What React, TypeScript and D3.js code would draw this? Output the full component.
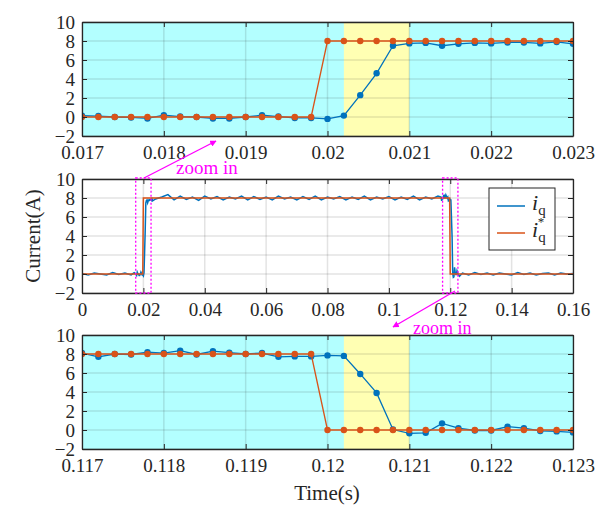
import React, { useEffect, useRef } from 'react'
import * as d3 from 'd3'

// sample grid of the zoomed panels (0.2 us steps)
const topTime = d3.range(31).map((i) => 0.017 + i * 0.0002)
const botTime = d3.range(31).map((i) => 0.117 + i * 0.0002)

// zoomed panel, start of the step
const topIq = [
  0.15, 0.1, 0, -0.05, -0.15, 0.2, 0.05, 0, -0.15, -0.15, 0, 0.2, 0.05, -0.1, -0.1, -0.2, 0.15, 2.3, 4.6, 7.5,
  7.75, 7.8, 7.5, 7.7, 7.8, 7.75, 7.85, 7.85, 7.75, 7.9, 7.7,
]
const topRef = [0, 0, 0, 0, 0, 0, 0, 0, 0, 0, 0, 0, 0, 0, 0, 8, 8, 8, 8, 8, 8, 8, 8, 8, 8, 8, 8, 8, 8, 8, 8]

// zoomed panel, end of the step
const botIq = [
  8.1, 7.7, 8.0, 7.95, 8.2, 8.1, 8.35, 7.95, 8.3, 8.15, 8.0, 8.1, 7.7, 7.75, 7.75, 7.85, 7.8, 5.9, 3.9, 0.05,
  -0.35, -0.3, 0.7, 0.2, -0.05, -0.05, 0.35, 0.2, -0.1, -0.15, -0.25,
]
const botRef = [8, 8, 8, 8, 8, 8, 8, 8, 8, 8, 8, 8, 8, 8, 8, 0, 0, 0, 0, 0, 0, 0, 0, 0, 0, 0, 0, 0, 0, 0, 0]

// full run, sampled every 2 us outside the zoomed windows
const preTime = d3.range(9).map((i) => i * 0.002)
const preIq = [0.05, -0.1, 0.1, 0, -0.1, 0.15, -0.05, 0.1, -0.1]
const midTime = d3.range(47).map((i) => 0.024 + i * 0.002)
const midIq = [
  7.9, 8.1, 8.35, 7.8, 8.2, 7.85, 8.1, 7.75, 8.2, 7.9, 8.15, 7.8, 8.1, 7.9, 8.2, 7.8, 8.15, 7.85, 8.1, 7.8, 8.2,
  7.9, 8.1, 7.8, 8.15, 7.85, 8.2, 7.8, 8.1, 7.9, 8.15, 7.8, 8.1, 7.85, 8.2, 7.8, 8.1, 7.9, 8.15, 7.8, 8.1, 7.85,
  8.2, 7.8, 8.1, 7.9, 8.2,
]
const postTime = d3.range(19).map((i) => 0.124 + i * 0.002)
const postIq = [0.1, -0.1, 0.15, -0.05, 0.1, -0.1, 0.1, 0, -0.1, 0.15, -0.05, 0.1, -0.1, 0.05, 0.1, -0.1, 0.1, 0, 0.05]

const yTicks = [-2, 0, 2, 4, 6, 8, 10]
const topTicks = [0.017, 0.018, 0.019, 0.02, 0.021, 0.022, 0.023]
const topTickLabels = ['0.017', '0.018', '0.019', '0.02', '0.021', '0.022', '0.023']
const midTicks = [0, 0.02, 0.04, 0.06, 0.08, 0.1, 0.12, 0.14, 0.16]
const midTickLabels = ['0', '0.02', '0.04', '0.06', '0.08', '0.1', '0.12', '0.14', '0.16']
const botTicks = [0.117, 0.118, 0.119, 0.12, 0.121, 0.122, 0.123]
const botTickLabels = ['0.117', '0.118', '0.119', '0.12', '0.121', '0.122', '0.123']

// highlighted intervals
const topSpan = [0.0202, 0.021]
const botSpan = [0.1202, 0.121]
const zoomBoxes = [
  [0.0175, 0.0225],
  [0.1175, 0.1225],
]

const BLUE = '#0072BD'
const ORANGE = '#D95319'
const AX = '#262626'
const FONT = 'Liberation Serif, DejaVu Serif, Noto Serif, Times New Roman, Times, serif'

const App = () => {
  const svgRef = useRef(null)

  useEffect(() => {
    const svg = d3.select(svgRef.current)
    svg.selectAll('*').remove()
    svg.attr('font-family', FONT)

    const left = 82
    const right = 573

    const drawPanel = (top, bottom, domain, ticks, labels, series, opts) => {
      const x = d3.scaleLinear().domain(domain).range([left, right])
      const y = d3.scaleLinear().domain([-2, 10]).range([bottom, top])
      const g = svg.append('g')

      if (opts.shaded) {
        g.append('rect')
          .attr('x', left)
          .attr('y', top)
          .attr('width', right - left)
          .attr('height', bottom - top)
          .attr('fill', '#b3ffff')
        g.append('rect')
          .attr('x', x(opts.span[0]))
          .attr('y', top)
          .attr('width', x(opts.span[1]) - x(opts.span[0]))
          .attr('height', bottom - top)
          .attr('fill', '#ffffb3')
      }

      // grid
      g.selectAll('.gx')
        .data(ticks)
        .enter()
        .append('line')
        .attr('x1', (d) => x(d))
        .attr('x2', (d) => x(d))
        .attr('y1', top)
        .attr('y2', bottom)
        .attr('stroke', AX)
        .attr('stroke-opacity', 0.13)
        .attr('stroke-width', 1.5)
      g.selectAll('.gy')
        .data(yTicks)
        .enter()
        .append('line')
        .attr('x1', left)
        .attr('x2', right)
        .attr('y1', (d) => y(d))
        .attr('y2', (d) => y(d))
        .attr('stroke', AX)
        .attr('stroke-opacity', 0.13)
        .attr('stroke-width', 1.5)

      // lines
      const line = d3
        .line()
        .x((d) => x(d[0]))
        .y((d) => y(d[1]))
      const clipId = 'clip' + top
      svg
        .append('clipPath')
        .attr('id', clipId)
        .append('rect')
        .attr('x', left)
        .attr('y', top)
        .attr('width', right - left)
        .attr('height', bottom - top)
      series.forEach((s) => {
        const sg = g.append('g').attr('clip-path', `url(#${clipId})`)
        sg.append('path')
          .datum(s.pts)
          .attr('d', line)
          .attr('fill', 'none')
          .attr('stroke', s.color)
          .attr('stroke-width', opts.markers ? 1.3 : 1.5)
        if (opts.markers) {
          sg.selectAll('circle')
            .data(s.pts)
            .enter()
            .append('circle')
            .attr('cx', (d) => x(d[0]))
            .attr('cy', (d) => y(d[1]))
            .attr('r', 3.2)
            .attr('fill', s.color)
        }
      })

      // axes with inward ticks on all sides
      const fmt = (d) => labels[ticks.indexOf(d)]
      const styleAxis = (a) => {
        a.attr('font-family', FONT).attr('font-size', 19)
        a.selectAll('path').attr('stroke', AX).attr('stroke-width', 1.3)
        a.selectAll('line').attr('stroke', AX).attr('stroke-width', 1)
        a.selectAll('text').attr('fill', AX)
      }
      g.append('g')
        .attr('transform', `translate(0,${bottom})`)
        .call(d3.axisBottom(x).tickValues(ticks).tickFormat(fmt).tickSize(-5).tickPadding(10).tickSizeOuter(0))
        .call(styleAxis)
      g.append('g')
        .attr('transform', `translate(0,${top})`)
        .call(d3.axisTop(x).tickValues(ticks).tickFormat(() => '').tickSize(-5).tickSizeOuter(0))
        .call(styleAxis)
      g.append('g')
        .attr('transform', `translate(${left},0)`)
        .call(d3.axisLeft(y).tickValues(yTicks).tickSize(-5).tickPadding(7).tickSizeOuter(0))
        .call(styleAxis)
      g.append('g')
        .attr('transform', `translate(${right},0)`)
        .call(d3.axisRight(y).tickValues(yTicks).tickFormat(() => '').tickSize(-5).tickSizeOuter(0))
        .call(styleAxis)
      g.selectAll('.domain').attr('fill', 'none')
      return { x, y, g }
    }

    const zip = (t, v) => t.map((d, i) => [d, v[i]])

    drawPanel(22, 136, [0.017, 0.023], topTicks, topTickLabels, [
      { pts: zip(topTime, topIq), color: BLUE },
      { pts: zip(topTime, topRef), color: ORANGE },
    ], { shaded: true, span: topSpan, markers: true })

    const fullIq = [
      ...zip(preTime, preIq),
      ...zip(topTime, topIq),
      ...zip(midTime, midIq),
      ...zip(botTime, botIq),
      ...zip(postTime, postIq),
    ]
    const fullRef = [[0, 0], ...zip(topTime, topRef), ...zip(botTime, botRef), [0.16, 0]]

    const mid = drawPanel(179, 293, [0, 0.16], midTicks, midTickLabels, [
      { pts: fullIq, color: BLUE },
      { pts: fullRef, color: ORANGE },
    ], { shaded: false, markers: false })

    // dotted zoom boxes
    mid.g
      .selectAll('.zb')
      .data(zoomBoxes)
      .enter()
      .append('rect')
      .attr('x', (d) => mid.x(d[0]))
      .attr('y', 178)
      .attr('width', (d) => mid.x(d[1]) - mid.x(d[0]))
      .attr('height', 115)
      .attr('fill', 'none')
      .attr('stroke', '#ff00ff')
      .attr('stroke-width', 1.3)
      .attr('stroke-dasharray', '2,2')

    drawPanel(335, 449, [0.117, 0.123], botTicks, botTickLabels, [
      { pts: zip(botTime, botIq), color: BLUE },
      { pts: zip(botTime, botRef), color: ORANGE },
    ], { shaded: true, span: botSpan, markers: true })

    // legend
    const lg = svg.append('g')
    lg.append('rect')
      .attr('x', 489)
      .attr('y', 188)
      .attr('width', 66)
      .attr('height', 62)
      .attr('fill', '#fff')
      .attr('stroke', AX)
      .attr('stroke-width', 1)
    ;[
      { c: BLUE, y: 206, star: false },
      { c: ORANGE, y: 233, star: true },
    ].forEach((e) => {
      lg.append('line').attr('x1', 497).attr('x2', 525).attr('y1', e.y).attr('y2', e.y).attr('stroke', e.c).attr('stroke-width', 1.5)
      const t = lg.append('text').attr('x', 532).attr('y', e.y + 4).attr('fill', AX)
      t.append('tspan').attr('font-size', 22).attr('font-style', 'italic').text('i')
      t.append('tspan').attr('font-size', 15).attr('dy', 5).text('q')
      if (e.star) {
        t.append('tspan').attr('font-size', 13).attr('dx', -8).attr('dy', -16).text('*')
      }
    })

    // zoom annotations
    const defs = svg.append('defs')
    defs.append('marker')
      .attr('id', 'arr')
      .attr('viewBox', '0 0 10 10')
      .attr('refX', 9)
      .attr('refY', 5)
      .attr('markerWidth', 5)
      .attr('markerHeight', 5)
      .attr('orient', 'auto')
      .append('path')
      .attr('d', 'M0,0L10,5L0,10z')
      .attr('fill', '#ff00ff')
    svg.append('line').attr('x1', 144).attr('y1', 178).attr('x2', 216).attr('y2', 141).attr('stroke', '#ff00ff').attr('stroke-width', 1.3).attr('marker-end', 'url(#arr)')
    svg.append('line').attr('x1', 455).attr('y1', 291).attr('x2', 393).attr('y2', 327).attr('stroke', '#ff00ff').attr('stroke-width', 1.3).attr('marker-end', 'url(#arr)')
    svg.append('text').attr('x', 176).attr('y', 174).text('zoom in').attr('fill', '#ff00ff').attr('font-size', 19)
    svg.append('text').attr('x', 413).attr('y', 334).text('zoom in').attr('fill', '#ff00ff').attr('font-size', 18)

    // axis titles
    svg.append('text')
      .text('Current(A)')
      .attr('transform', 'translate(40,236) rotate(-90)')
      .attr('text-anchor', 'middle')
      .attr('fill', AX)
      .attr('font-size', 21)
    svg.append('text')
      .text('Time(s)')
      .attr('x', 327)
      .attr('y', 500)
      .attr('text-anchor', 'middle')
      .attr('fill', AX)
      .attr('font-size', 21)
  }, [])

  return <svg ref={svgRef} width={603} height={506} style={{ position: 'absolute', left: 0, top: 0, background: '#fff' }}></svg>
}

export default App
